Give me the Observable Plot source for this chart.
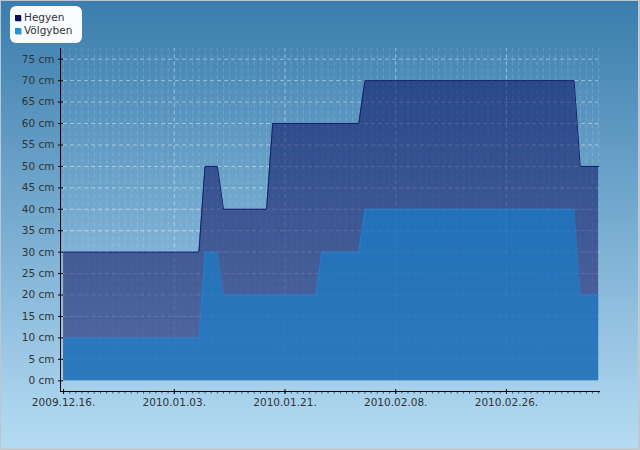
<!DOCTYPE html>
<html><head><meta charset="utf-8">
<script src="https://cdn.jsdelivr.net/npm/d3@7"></script>
<script src="https://cdn.jsdelivr.net/npm/@observablehq/plot@0.6"></script>
<style>
html,body{margin:0;padding:0;background:#fff;}
#wrap{position:relative;width:640px;height:450px;overflow:hidden;
  background:linear-gradient(to bottom,#3a7dad 0%,#b6dcf4 100%);
  box-shadow:inset 0 0 0 1px #bcc6ce, inset -2px -2px 0 0 #c4ccd4;
  font-family:"DejaVu Sans",sans-serif;}
#wrap svg{display:block;position:absolute;left:0;top:0;}
#legend{position:absolute;left:10px;top:6px;width:72px;height:37px;background:#f8fcff;border-radius:6px;font-size:10.5px;color:#333;z-index:2;}
#legend .item{position:absolute;left:5px;height:12px;line-height:12px;white-space:nowrap;}
#legend .sw{display:inline-block;width:6px;height:6px;margin-right:3px;vertical-align:0px;box-shadow:1px 1px 0 #b8c4d0;}
</style>
</head><body>
<div id="wrap"><div id="legend"></div></div>
<script>
// ---- data ----
const seriesNames = ["Hegyen", "Völgyben"];
const seriesColors = ["#0c0c5c", "#1e94dc"];
const hegyenDates = ["2009-12-16","2010-01-07","2010-01-08","2010-01-10","2010-01-11","2010-01-18","2010-01-19","2010-02-02","2010-02-03","2010-03-09","2010-03-10","2010-03-13"];
const hegyenValues = [30,30,50,50,40,40,60,60,70,70,50,50];
const volgybenDates = ["2009-12-16","2010-01-07","2010-01-08","2010-01-10","2010-01-11","2010-01-26","2010-01-27","2010-02-02","2010-02-03","2010-03-09","2010-03-10","2010-03-13"];
const volgybenValues = [10,10,30,30,20,20,30,30,40,40,20,20];
const xTickLabels = ["2009-12-16","2010-01-03","2010-01-21","2010-02-08","2010-02-26"];
const yTickValues = [0,5,10,15,20,25,30,35,40,45,50,55,60,65,70,75];

const parse = d3.utcParse("%Y-%m-%d");
const hegyen = hegyenDates.map((d,i)=>({date:parse(d), value:hegyenValues[i]}));
const volgyben = volgybenDates.map((d,i)=>({date:parse(d), value:volgybenValues[i]}));
const xTicks = xTickLabels.map(parse);
const first = parse(hegyenDates[0]), last = parse(hegyenDates[hegyenDates.length-1]);
const x0 = new Date(+first - 12*3600e3), x1 = new Date(+last + 7*3600e3);
const days = d3.utcDay.range(first, d3.utcDay.offset(last,1));
const fmt = d3.utcFormat("%Y.%m.%d.");

const chart = Plot.plot({
  width:640, height:450,
  marginLeft:60, marginRight:40, marginTop:48, marginBottom:59,
  style:{background:"transparent", fontFamily:"'DejaVu Sans',sans-serif", fontSize:"10.5px", overflow:"visible"},
  x:{type:"utc", domain:[x0,x1]},
  y:{domain:[-2.5,77.5]},
  marks:[
    // minor vertical grid (daily)
    Plot.ruleX(days, {x:d=>d, y1:0, y2:77.5, stroke:"#fff", strokeOpacity:0.16, strokeDasharray:"4,3"}),
    // major vertical grid
    Plot.ruleX(xTicks.slice(1), {x:d=>d, y1:0, y2:77.5, stroke:"#fff", strokeOpacity:0.35, strokeDasharray:"4,3"}),
    // horizontal grid
    Plot.ruleY(yTickValues.slice(1), {y:d=>d, x1:first, x2:last, stroke:"#fff", strokeOpacity:0.45, strokeDasharray:"4,3"}),
    // areas
    Plot.areaY(hegyen, {x:"date", y:"value", fill:"#000056", fillOpacity:0.49}),
    Plot.lineY(hegyen, {x:"date", y:"value", stroke:"#15206a", strokeWidth:1}),
    Plot.areaY(volgyben, {x:"date", y:"value", fill:"#0f87d7", fillOpacity:0.55}),
    Plot.lineY(volgyben, {x:"date", y:"value", stroke:"#2a8ad8", strokeOpacity:0.5, strokeWidth:1}),
    // axis lines
    Plot.ruleY([-2.5], {stroke:"#000"}),
    Plot.ruleX([x0], {y1:-2.5, y2:77.5, stroke:"#000"}),
    // minor x ticks
    Plot.ruleX(days, {x:d=>d, y1:-2.5, y2:-3.1, stroke:"#000", strokeOpacity:0.6}),
    // axes
    Plot.axisX(xTicks, {tickFormat:fmt, tickSize:5, dy:-2, tickPadding:4, label:null, stroke:"#000", fill:"#333", fontSize:10.5}),
    Plot.axisY(yTickValues, {tickFormat:d=>d+" cm", tickSize:5, dx:3, tickPadding:4, label:null, stroke:"#000", fill:"#333", fontSize:10.5})
  ]
});
document.getElementById("wrap").appendChild(chart);

const legend = document.getElementById("legend");
seriesNames.forEach((n,i)=>{
  const it = document.createElement("div");
  it.className = "item";
  it.style.top = (5 + i*13) + "px";
  it.innerHTML = `<span class="sw" style="background:${seriesColors[i]}"></span>${n}`;
  legend.appendChild(it);
});
</script>
</body></html>
